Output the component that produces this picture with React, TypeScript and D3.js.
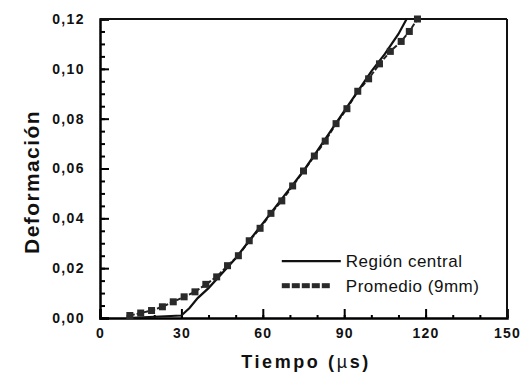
import React, { useEffect, useRef } from 'react';
import * as d3 from 'd3';

// Región central (solid line)
const centralTime = [10, 20, 30, 33, 36, 40, 45, 50, 55, 60, 65, 70, 75, 80, 85, 90, 95, 100, 105, 110, 113];
const centralStrain = [0, 0.0005, 0.001, 0.004, 0.008, 0.012, 0.018, 0.024, 0.031, 0.038, 0.045, 0.052, 0.059, 0.067, 0.075, 0.083, 0.091, 0.099, 0.106, 0.114, 0.12];

// Promedio (9mm) (square markers)
const avgTime = [11, 15, 19, 23, 27, 31, 35, 39, 43, 47, 51, 55, 59, 63, 67, 71, 75, 79, 83, 87, 91, 95, 99, 103, 107, 111, 114, 117];
const avgStrain = [0.001, 0.002, 0.003, 0.0045, 0.0065, 0.0085, 0.0105, 0.0135, 0.0165, 0.021, 0.025, 0.031, 0.036, 0.042, 0.047, 0.053, 0.059, 0.065, 0.071, 0.078, 0.084, 0.091, 0.096, 0.102, 0.107, 0.111, 0.115, 0.12];

const xTicks = [0, 30, 60, 90, 120, 150];
const yTicks = [0, 0.02, 0.04, 0.06, 0.08, 0.1, 0.12];
const legendLabels = ['Región central', 'Promedio (9mm)'];

const W = 523;
const H = 376;
const FONT = 'Liberation Sans, Arial, sans-serif';

const App: React.FC = () => {
  const svgRef = useRef<SVGSVGElement>(null);

  useEffect(() => {
    if (!svgRef.current) return;
    const root = d3.select(svgRef.current);
    root.selectAll('*').remove();

    const margin = { top: 19, right: 16, bottom: 58, left: 100 };
    const width = W - margin.left - margin.right;
    const height = H - margin.top - margin.bottom;

    const g = root.append('g').attr('transform', `translate(${margin.left},${margin.top})`);

    const x = d3.scaleLinear().domain([0, 150]).range([0, width]);
    const y = d3.scaleLinear().domain([0, 0.12]).range([height, 0]);

    const fmt = (d: number) => d3.format('.2f')(d).replace('.', ',');

    // Minor ticks
    g.append('g')
      .call(d3.axisLeft(y).tickValues(d3.range(0, 0.1201, 0.005)).tickSize(-5).tickFormat(() => ''))
      .call(s => s.select('.domain').remove())
      .selectAll('line')
      .attr('stroke-width', 2);
    g.append('g')
      .attr('transform', `translate(0,${height})`)
      .call(d3.axisBottom(x).tickValues(d3.range(0, 151, 10)).tickSize(-3).tickFormat(() => ''))
      .call(s => s.select('.domain').remove())
      .selectAll('line')
      .attr('stroke-width', 2);

    // Major axes
    const yAxis = g.append('g')
      .call(d3.axisLeft(y).tickValues(yTicks).tickSize(-9).tickPadding(15).tickFormat(d => fmt(d as number)));
    yAxis.selectAll('line').attr('stroke-width', 2);
    yAxis.select('.domain').attr('stroke-width', 2.5);
    yAxis.selectAll('text')
      .attr('font-family', FONT)
      .attr('font-weight', 'bold')
      .attr('font-size', 14)
      .attr('letter-spacing', 1.4)
      .attr('fill', '#111');

    const xAxis = g.append('g')
      .attr('transform', `translate(0,${height})`)
      .call(d3.axisBottom(x).tickValues(xTicks).tickSize(-9).tickPadding(10).tickFormat(d => String(d)));
    xAxis.selectAll('line').attr('stroke-width', 2);
    xAxis.select('.domain').attr('stroke-width', 2.5);
    xAxis.selectAll('text')
      .attr('font-family', FONT)
      .attr('font-weight', 'bold')
      .attr('font-size', 14)
      .attr('letter-spacing', 1.2)
      .attr('fill', '#111');

    // Frame top and right
    g.append('line').attr('x1', 0).attr('x2', width).attr('y1', 0).attr('y2', 0)
      .attr('stroke', '#111').attr('stroke-width', 2);
    g.append('line').attr('x1', width).attr('x2', width).attr('y1', 0).attr('y2', height)
      .attr('stroke', '#111').attr('stroke-width', 2);

    // Data
    const central = centralTime.map((t, i) => [t, centralStrain[i]] as [number, number]);
    const avg = avgTime.map((t, i) => [t, avgStrain[i]] as [number, number]);
    const line = d3.line<[number, number]>().x(d => x(d[0])).y(d => y(d[1]));

    g.append('path')
      .datum(avg)
      .attr('d', line)
      .attr('fill', 'none')
      .attr('stroke', '#222')
      .attr('stroke-width', 2)
      .attr('stroke-dasharray', '5,2');

    g.append('path')
      .datum(central)
      .attr('d', line)
      .attr('fill', 'none')
      .attr('stroke', '#111')
      .attr('stroke-width', 2.2);

    g.selectAll('.marker')
      .data(avg)
      .enter()
      .append('rect')
      .attr('class', 'marker')
      .attr('x', d => x(d[0]) - 3.5)
      .attr('y', d => y(d[1]) - 3.5)
      .attr('width', 7)
      .attr('height', 7)
      .attr('fill', '#2a2a2a');

    // Legend
    const legend = g.append('g').attr('transform', `translate(${x(67)},${y(0.0228)})`);
    legend.append('line').attr('x1', 0).attr('x2', 59).attr('y1', 0).attr('y2', 0)
      .attr('stroke', '#111').attr('stroke-width', 2.2);
    const dashes = d3.range(5);
    legend.selectAll('.lm')
      .data(dashes)
      .enter()
      .append('rect')
      .attr('class', 'lm')
      .attr('x', d => d * 10)
      .attr('y', 22)
      .attr('width', 8)
      .attr('height', 5)
      .attr('fill', '#2a2a2a');
    legend.selectAll('.lt')
      .data(legendLabels)
      .enter()
      .append('text')
      .attr('class', 'lt')
      .attr('x', 64)
      .attr('y', (d, i) => i * 25 + 6)
      .attr('font-family', FONT)
      .attr('font-size', 17)
      .attr('letter-spacing', 0.5)
      .attr('fill', '#111')
      .text(d => d);

    // Axis titles
    root.append('text')
      .attr('transform', `translate(39,182) rotate(-90)`)
      .attr('text-anchor', 'middle')
      .attr('font-family', FONT)
      .attr('font-weight', 'bold')
      .attr('font-size', 21)
      .attr('letter-spacing', 1.4)
      .attr('fill', '#111')
      .text('Deformación');

    const xt = root.append('text')
      .attr('x', 306)
      .attr('y', 368)
      .attr('text-anchor', 'middle')
      .attr('font-family', FONT)
      .attr('font-size', 18)
      .attr('letter-spacing', 2.6)
      .attr('fill', '#111');
    xt.append('tspan').attr('font-weight', 'bold').text('Tiempo  (');
    xt.append('tspan').attr('font-weight', 'normal').text('µ');
    xt.append('tspan').attr('font-weight', 'bold').text('s)');
  }, []);

  return (
    <svg
      ref={svgRef}
      width={W}
      height={H}
      style={{ position: 'absolute', left: 0, top: 0, background: '#fff' }}
    />
  );
};

export default App;
